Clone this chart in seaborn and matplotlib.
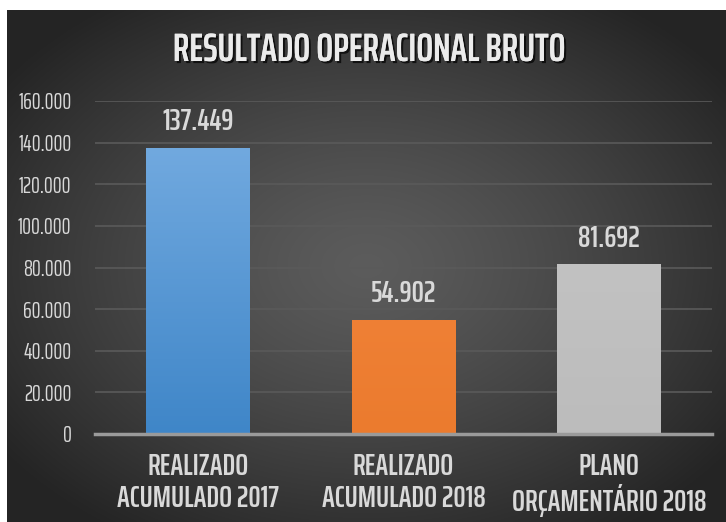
import numpy as np
import pandas as pd
import matplotlib
matplotlib.use("Agg")
import matplotlib.pyplot as plt
import matplotlib.patheffects as pe
from matplotlib.ticker import FuncFormatter
from matplotlib.colors import to_rgb
import seaborn as sns

categories = ["REALIZADO\nACUMULADO 2017", "REALIZADO\nACUMULADO 2018", "PLANO\nORÇAMENTÁRIO 2018"]
values = [137449, 54902, 81692]
value_labels = ["137.449", "54.902", "81.692"]
title = "RESULTADO OPERACIONAL BRUTO"
yticks = [0, 20000, 40000, 60000, 80000, 100000, 120000, 140000, 160000]

sns.set_theme(style="dark")
FONT = ['Saira ExtraCondensed', 'DejaVu Sans']
plt.rcParams['font.family'] = FONT

W, H = 726, 522
fig = plt.figure(figsize=(W / 100, H / 100), dpi=100)
fig.patch.set_facecolor("white")

# background radial gradient
bg = fig.add_axes([7 / W, 0, (W - 7) / W, (H - 10) / H])
bg.set_axis_off()
yy, xx = np.mgrid[0:1:300j, 0:1:400j]
r = np.sqrt(((xx - 0.5) / 0.62) ** 2 + ((yy - 0.5) / 0.62) ** 2)
r = np.clip(r, 0, 1)
c0, c1 = 0.36, 0.145
g = c0 + (c1 - c0) * r ** 1.3
bg.imshow(np.dstack([g, g, g]), aspect="auto", extent=[0, 1, 0, 1], interpolation="bilinear")
bg.set_xlim(0, 1); bg.set_ylim(0, 1)

ax = fig.add_axes([95 / W, (H - 434) / H, (712 - 95) / W, (434 - 101) / H])
ax.patch.set_alpha(0)
df = pd.DataFrame({"cat": categories, "val": values})
colors = ["#5b9bd5", "#ed7d31", "#bfbfbf"]
sns.barplot(data=df, x="cat", y="val", hue="cat", palette=colors, legend=False,
            width=0.505, ax=ax, saturation=1, edgecolor="none")

grads = [("#71a9df", "#3f86c8"), ("#ef8035", "#eb7b2e"), ("#c2c2c2", "#bcbcbc")]
for p, (top, bot) in zip(ax.patches, grads):
    x0, y0 = p.get_x(), p.get_y()
    w, h = p.get_width(), p.get_height()
    t = np.array(to_rgb(top)); b = np.array(to_rgb(bot))
    s = np.linspace(0, 1, 100)[:, None]
    img = (t * (1 - s) + b * s)[:, None, :]
    im = ax.imshow(img, extent=[x0, x0 + w, y0, y0 + h], aspect="auto", zorder=p.get_zorder() + 0.1)
    im.set_clip_path(p)

ax.set_xlim(-0.5, 2.5)
ax.set_ylim(0, 160000)
ax.set_yticks(yticks)
ax.yaxis.set_major_formatter(FuncFormatter(lambda v, _: f"{int(v):,}".replace(",", ".")))
ax.grid(axis="y", color="#5a5a5a", linewidth=1.2)
ax.set_axisbelow(True)
for s in ["top", "right", "left"]:
    ax.spines[s].set_visible(False)
ax.spines["bottom"].set_color("#9a9a9a")
ax.spines["bottom"].set_linewidth(2.5)
ax.spines["bottom"].set_zorder(5)
ax.set_xlabel(""); ax.set_ylabel("")
ax.tick_params(axis="y", colors="#d9d9d9", labelsize=16, length=0, pad=17)
ax.tick_params(axis="x", colors="#d9d9d9", labelsize=22, length=0, pad=13)
for lab in ax.get_xticklabels():
    lab.set_fontweight("semibold")
    lab.set_linespacing(1.12)

for i, (v, l) in enumerate(zip(values, value_labels)):
    ax.text(i, v + 5500, l, ha="center", va="bottom", color="#d9d9d9", fontsize=22,
            fontweight="semibold")

fig.text(369 / W, 1 - 50 / H, title, ha="center", va="center", color="#ebebeb",
         fontsize=28.5, fontweight="semibold",
         path_effects=[pe.withSimplePatchShadow(offset=(1.5, -1.5), shadow_rgbFace="black", alpha=0.7), pe.Normal()])

fig.savefig("out.png", dpi=100, facecolor=fig.get_facecolor())
